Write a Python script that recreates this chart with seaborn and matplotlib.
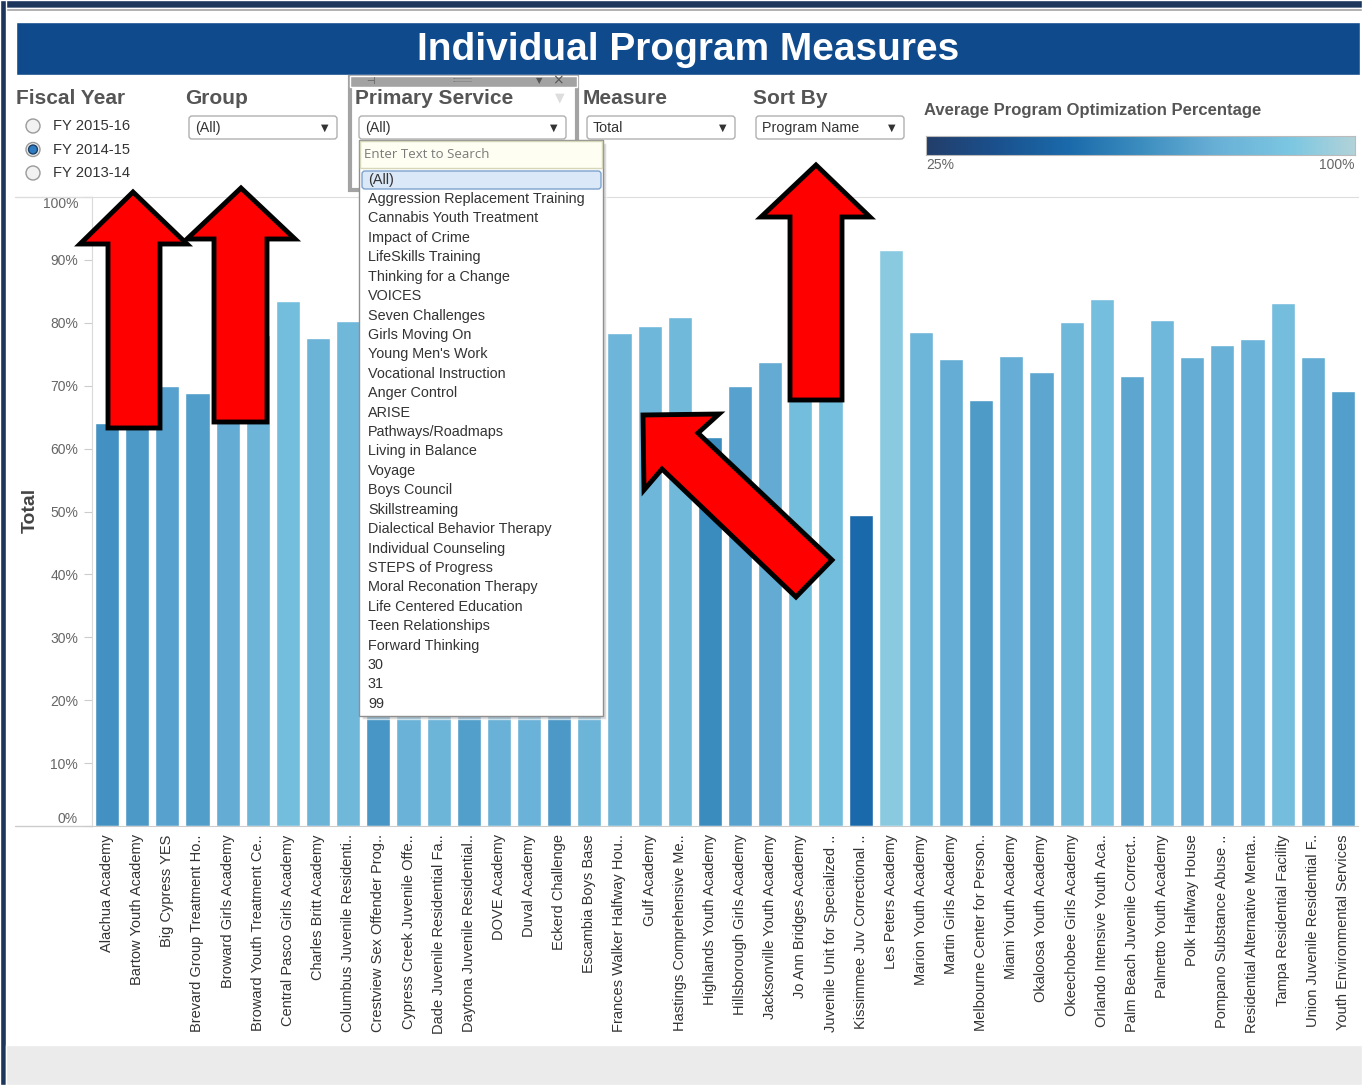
import matplotlib
matplotlib.use("Agg")
import matplotlib.pyplot as plt
import numpy as np
import seaborn as sns
from matplotlib.patches import Rectangle, Polygon, Circle, FancyBboxPatch
from matplotlib.colors import LinearSegmentedColormap, Normalize
from matplotlib.lines import Line2D

# programs on the x axis (Tableau truncates long names with "..")
programs = [
    "Alachua Academy", "Bartow Youth Academy", "Big Cypress YES",
    "Brevard Group Treatment Ho..", "Broward Girls Academy",
    "Broward Youth Treatment Ce..", "Central Pasco Girls Academy",
    "Charles Britt Academy", "Columbus Juvenile Residenti..",
    "Crestview Sex Offender Prog..", "Cypress Creek Juvenile Offe..",
    "Dade Juvenile Residential Fa..", "Daytona Juvenile Residential..",
    "DOVE Academy", "Duval Academy", "Eckerd Challenge", "Escambia Boys Base",
    "Frances Walker Halfway Hou..", "Gulf Academy", "Hastings Comprehensive Me..",
    "Highlands Youth Academy", "Hillsborough Girls Academy",
    "Jacksonville Youth Academy", "Jo Ann Bridges Academy",
    "Juvenile Unit for Specialized ..", "Kissimmee Juv Correctional ..",
    "Les Peters Academy", "Marion Youth Academy", "Martin Girls Academy",
    "Melbourne Center for Person..", "Miami Youth Academy",
    "Okaloosa Youth Academy", "Okeechobee Girls Academy",
    "Orlando Intensive Youth Aca..", "Palm Beach Juvenile Correct..",
    "Palmetto Youth Academy", "Polk Halfway House", "Pompano Substance Abuse ..",
    "Residential Alternative Menta..", "Tampa Residential Facility",
    "Union Juvenile Residential F..", "Youth Environmental Services",
]
# Total (share), several bars hidden behind the dropdown / arrows are estimated
totals = [
    0.640, 0.670, 0.700, 0.688, 0.740, 0.780, 0.834, 0.776, 0.803,
    0.660, 0.770, 0.780, 0.690, 0.760, 0.770, 0.670, 0.780,
    0.784, 0.795, 0.809, 0.619, 0.700, 0.737, 0.830, 0.830, 0.495,
    0.915, 0.786, 0.743, 0.677, 0.747, 0.721, 0.801, 0.838, 0.716,
    0.805, 0.745, 0.764, 0.774, 0.832, 0.745, 0.692,
]
y_ticks = [0, 0.1, 0.2, 0.3, 0.4, 0.5, 0.6, 0.7, 0.8, 0.9, 1.0]

fiscal_years = ["FY 2015-16", "FY 2014-15", "FY 2013-14"]
selected_year = "FY 2014-15"
primary_services = [
    "Aggression Replacement Training", "Cannabis Youth Treatment", "Impact of Crime",
    "LifeSkills Training", "Thinking for a Change", "VOICES", "Seven Challenges",
    "Girls Moving On", "Young Men's Work", "Vocational Instruction", "Anger Control",
    "ARISE", "Pathways/Roadmaps", "Living in Balance", "Voyage", "Boys Council",
    "Skillstreaming", "Dialectical Behavior Therapy", "Individual Counseling",
    "STEPS of Progress", "Moral Reconation Therapy", "Life Centered Education",
    "Teen Relationships", "Forward Thinking", "30", "31", "99",
]

# tableau-like blue gradient, 25% -> 100%
cmap = LinearSegmentedColormap.from_list("tab_blue", [
    (0.0, "#233e6a"), (0.15, "#1b4f8b"), (0.33, "#1a6aab"), (0.5, "#3c8dbf"),
    (0.67, "#68afd6"), (0.85, "#7cc7e2"), (1.0, "#b2d3d9")])
norm = Normalize(0.25, 1.0)
colors = [cmap(norm(v)) for v in totals]

sns.set_style("white")
plt.rcParams["font.family"] = ["Liberation Sans", "DejaVu Sans"]

W, H = 1362, 1085
fig = plt.figure(figsize=(W / 100, H / 100), dpi=100)
fig.patch.set_facecolor("white")
T = fig.dpi_scale_trans


def px(x, y):
    return (x / 100, (H - y) / 100)


def box(x0, y0, x1, y1, z=2, **kw):
    r = Rectangle(px(x0, y1), (x1 - x0) / 100, (y1 - y0) / 100, transform=T, zorder=z, **kw)
    fig.add_artist(r)


def txt(x, y, s, z=6, **kw):
    kw.setdefault("va", "center")
    fig.text(*px(x, y), s, transform=T, zorder=z, **kw)


def dropdown(x0, x1, label):
    fig.add_artist(FancyBboxPatch(px(x0, 139), (x1 - x0) / 100, 0.23, boxstyle="round,pad=0,rounding_size=0.03",
                                  transform=T, facecolor="white", edgecolor="#b0b0b0", lw=1, zorder=2))
    txt(x0 + 6, 127.5, label, fontsize=10.3, color="#333333")
    txt(x1 - 12, 128, "\u25bc", fontsize=7, color="#333333", ha="center", family="DejaVu Sans")


# frame of the dashboard
box(0, 0, W, 8, facecolor="#1c365c")
box(0, 8, W, 11, facecolor="#a0a0a0")
box(0, 0, 6, H, facecolor="#1c365c")
box(6, 1045, W, H, facecolor="#ebebeb")

# title banner
box(16, 22, 1360, 75, facecolor="#0f4a8c")
txt(688, 50, "Individual Program Measures", fontsize=28, fontweight="bold", color="white", ha="center")

# filters
head = dict(fontsize=15, fontweight="bold", color="#555555")
txt(16, 98, "Fiscal Year", **head)
for i, fy in enumerate(fiscal_years):
    cy = 126 + i * 23.5
    fig.add_artist(Circle(px(33, cy), 0.07, transform=T, facecolor="#f2f2f2", edgecolor="#9a9a9a", lw=1, zorder=3))
    if fy == selected_year:
        fig.add_artist(Circle(px(33, cy), 0.045, transform=T, facecolor="#2d7cc2", edgecolor="#1d3f66", lw=1, zorder=4))
    txt(53, cy, fy, fontsize=10.6, color="#333333")

txt(185, 98, "Group", **head)
dropdown(189, 337, "(All)")

# Primary Service panel (being edited)
box(350, 77, 577, 190, facecolor="none", edgecolor="#a3a3a3", lw=3, z=3)
box(350, 76, 577, 87, facecolor="#a3a3a3", z=3)
txt(370, 81, "\u22a3", fontsize=7, color="#555555", family="DejaVu Sans", ha="center")
txt(462, 80.5, "::::::::::", fontsize=5, color="#555555", ha="center")
txt(539, 81, "\u25bc", fontsize=6, color="#555555", family="DejaVu Sans", ha="center")
txt(558, 80.5, "\u00d7", fontsize=10, color="#555555", family="DejaVu Sans", ha="center")
txt(355, 98, "Primary Service", **head)
txt(560, 98, "\u25bc", fontsize=9, color="#dddddd", family="DejaVu Sans", ha="center")
dropdown(359, 566, "(All)")

txt(583, 98, "Measure", **head)
dropdown(587, 735, "Total")
txt(753, 98, "Sort By", **head)
dropdown(756, 904, "Program Name")

# colour legend
txt(924, 110, "Average Program Optimization Percentage", fontsize=12, fontweight="bold", color="#555555")
cax = fig.add_axes([926 / W, (H - 155) / H, 429 / W, 19 / H])
cax.imshow(np.linspace(0, 1, 256)[None, :], cmap=cmap, aspect="auto")
cax.set_xticks([])
cax.set_yticks([])
for s in cax.spines.values():
    s.set_color("#bbbbbb")
txt(926, 165, "25%", fontsize=10, color="#666666")
txt(1355, 165, "100%", fontsize=10, color="#666666", ha="right")

# main bar chart
ax = fig.add_axes([92 / W, (H - 826) / H, 1266 / W, 629 / H])
sns.barplot(x=programs, y=totals, hue=programs, palette=colors, legend=False,
            width=0.8, saturation=1, ax=ax)
ax.set_xlim(-0.5, len(programs) - 0.5)
ax.set_ylim(0, 1)
ax.set_yticks(y_ticks)
ax.set_yticklabels([f"{int(round(v * 100))}%" for v in y_ticks], fontsize=10, color="#666666")
ylabels = ax.get_yticklabels()
ylabels[0].set_va("bottom")
ylabels[-1].set_va("top")
ax.set_xticks(range(len(programs)))
ax.set_xticklabels(programs, rotation=90, fontsize=10.5, color="#333333", va="top")
ax.set_xticks(np.arange(-0.5, len(programs), 1), minor=True)
ax.tick_params(axis="x", which="major", length=0, pad=6)
ax.tick_params(axis="x", which="minor", length=6, color="#cccccc", direction="out")
ax.tick_params(axis="y", length=6, color="#cccccc", pad=4, left=True)
ax.set_xlabel("")
ax.set_ylabel("")
ax.spines["right"].set_visible(False)
ax.spines["left"].set_color("#d9d9d9")
ax.spines["bottom"].set_color("#cccccc")
ax.spines["top"].set_color("#dddddd")
fig.add_artist(Line2D([0.15, 0.92], [(H - 197) / 100] * 2, transform=T, color="#dddddd", lw=1))
fig.add_artist(Line2D([0.15, 0.92], [(H - 826) / 100] * 2, transform=T, color="#cccccc", lw=1))
txt(30, 510, "Total", fontsize=14, fontweight="bold", color="#444444", rotation=90, ha="center")

# open dropdown list of the Primary Service filter
box(362, 143, 606, 719, facecolor="#bdbdbd", alpha=0.6, z=4)
box(359, 140, 603, 716, facecolor="white", edgecolor="#8f8f8f", lw=1, z=5)
box(360, 141, 602, 168, facecolor="#fefef2", edgecolor="#d6d6b8", lw=1, z=5)
txt(364, 154.5, "Enter Text to Search", fontsize=9.5, color="#7a7a7a", family="Open Sans")
fig.add_artist(FancyBboxPatch(px(362, 189), 2.39, 0.18, boxstyle="round,pad=0,rounding_size=0.03",
                              transform=T, facecolor="#dbe8f7", edgecolor="#7da2ce", lw=1, zorder=5))
txt(368, 180, "(All)", fontsize=10.4, color="#333333")
for i, name in enumerate(primary_services):
    txt(368, 199 + i * 19.42, name, fontsize=10.4, color="#333333")

# red annotation arrows
arrows = [
    [(108, 428), (160, 428), (160, 244), (187, 244), (133, 192), (80, 244), (108, 244)],
    [(214, 422), (267, 422), (267, 239), (295, 239), (241, 188), (187, 239), (214, 239)],
    [(790, 400), (842, 400), (842, 217), (870, 217), (816, 165), (761, 217), (790, 217)],
    [(643, 415), (719, 414), (698, 433), (832, 560), (796, 597), (662, 469), (644, 490)],
]
for pts in arrows:
    fig.add_artist(Polygon([px(x, y) for x, y in pts], closed=True, transform=T,
                           facecolor="#ff0000", edgecolor="black", lw=3.5, joinstyle="miter", zorder=8))

fig.savefig("out.png", dpi=100)
